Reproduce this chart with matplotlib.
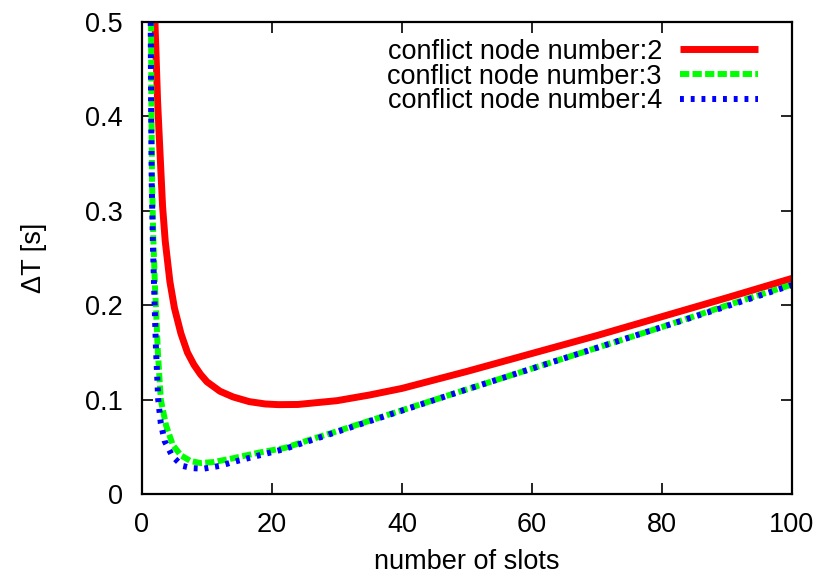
import numpy as np
import matplotlib
matplotlib.use('Agg')
import matplotlib.pyplot as plt

# values
slots_2 = [2.0, 2.4, 2.76, 3.17, 3.58, 4.3, 5.0, 6.0, 7.0, 8.0, 9.0, 10.0, 12.0,
           14.0, 16.5, 19, 21, 24, 30, 35, 40, 50, 60, 70, 80, 90, 100]
dt_2 = [0.5, 0.417, 0.364, 0.305, 0.268, 0.225, 0.197, 0.170, 0.150, 0.137, 0.127,
        0.119, 0.109, 0.103, 0.098, 0.0955, 0.0948, 0.095, 0.099, 0.105, 0.112,
        0.130, 0.149, 0.168, 0.188, 0.208, 0.2285]

slots_3 = [1.4, 1.45, 1.55, 1.75, 2.0, 2.2, 2.45, 2.9, 3.7, 4.75, 6, 7.5, 9, 11, 14,
           18, 22, 26, 30, 40, 50, 60, 70, 80, 90, 100]
dt_3 = [0.5, 0.417, 0.33, 0.27, 0.22, 0.19, 0.15, 0.10, 0.073, 0.052, 0.041, 0.035,
        0.033, 0.034, 0.038, 0.044, 0.049, 0.058, 0.0666, 0.0888, 0.111, 0.133,
        0.155, 0.177, 0.200, 0.222]

slots_4 = [1.35, 1.4, 1.5, 1.7, 1.95, 2.15, 2.5, 2.9, 3.5, 4.7, 6.2, 7.8, 9.5, 12,
           14, 18, 22, 26, 30, 40, 50, 60, 70, 80, 90, 100]
dt_4 = [0.5, 0.417, 0.33, 0.26, 0.20, 0.155, 0.10, 0.075, 0.056, 0.040, 0.030,
        0.0275, 0.027, 0.030, 0.034, 0.041, 0.048, 0.057, 0.066, 0.0885, 0.111,
        0.133, 0.155, 0.177, 0.199, 0.2215]

labels = ['conflict node number:2', 'conflict node number:3', 'conflict node number:4']
xticks = [0, 20, 40, 60, 80, 100]
yticks = [0, 0.1, 0.2, 0.3, 0.4, 0.5]
ytick_labels = ['0', '0.1', '0.2', '0.3', '0.4', '0.5']

plt.rcParams['font.family'] = ['Liberation Sans', 'DejaVu Sans']
plt.rcParams['font.size'] = 19.5

fig = plt.figure(figsize=(8.22, 5.80), dpi=100)
ax = fig.add_axes([0.1727, 0.148, 0.7908, 0.814])

ax.plot(slots_2, dt_2, color='#ff0000', lw=5, solid_capstyle='butt',
        solid_joinstyle='round', label=labels[0])
ax.plot(slots_3, dt_3, color='#00ff00', lw=4.3, dashes=(1.55, 0.55),
        dash_capstyle='butt', label=labels[1])
ax.plot(slots_4, dt_4, color='#0000ff', lw=4.3, dashes=(0.65, 1.15),
        dash_capstyle='butt', label=labels[2])

ax.set_xlim(0, 100)
ax.set_ylim(0, 0.5)
ax.set_xticks(xticks)
ax.set_yticks(yticks)
ax.set_yticklabels(ytick_labels)
ax.tick_params(direction='in', length=8, width=1.2, top=True, right=True)
ax.tick_params(axis='x', pad=13)
ax.tick_params(axis='y', pad=14)
for s in ax.spines.values():
    s.set_linewidth(1.6)

ax.set_xlabel('number of slots', labelpad=8)
ax.set_ylabel('\u0394T [s]', labelpad=27)

leg = ax.legend(loc='upper right', frameon=False, markerfirst=False,
                handlelength=2.9, handletextpad=0.65, labelspacing=-0.04,
                borderaxespad=0.3, bbox_to_anchor=(0.977, 1.005))

fig.savefig('out.png', dpi=100)
